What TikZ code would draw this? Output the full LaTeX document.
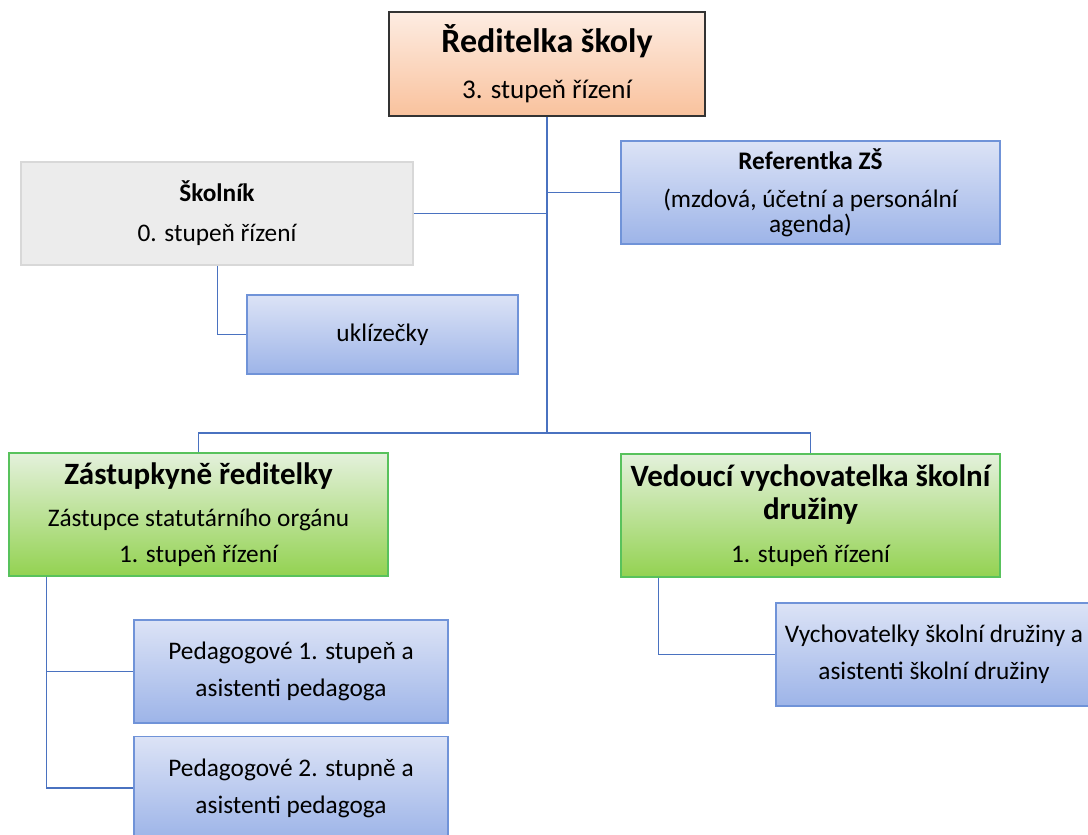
\documentclass[tikz,border=0pt]{standalone}
\usepackage{fontspec}
\setmainfont{Carlito}
\usepackage{tikz}
\usetikzlibrary{
  positioning
  , calc
}

\definecolor{linkblue}{HTML}{4A72C0}
\definecolor{bluetop}{HTML}{DCE3F6}
\definecolor{bluebot}{HTML}{9DB4E8}
\definecolor{blueline}{HTML}{7093D8}
\definecolor{greentop}{HTML}{E4F1DC}
\definecolor{greenbot}{HTML}{93D251}
\definecolor{greenline}{HTML}{58C25C}
\definecolor{orangetop}{HTML}{FDECE2}
\definecolor{orangebot}{HTML}{F9C29D}
\definecolor{grayfill}{HTML}{ECECEC}
\definecolor{grayline}{HTML}{D8D8D8}

\tikzset{
  box/.style={rectangle, inner sep=0pt, align=center, line width=1.2pt},
  bluebox/.style={box, draw=blueline, top color=bluetop, bottom color=bluebot},
  greenbox/.style={box, draw=greenline, top color=greentop, bottom color=greenbot},
  orangebox/.style={box, draw=black!80, line width=1.5pt, top color=orangetop, bottom color=orangebot},
  graybox/.style={box, draw=grayline, fill=grayfill},
  link/.style={draw=linkblue, line width=1.6pt},
}

\newcommand{\bighead}{\fontsize{31}{37}\selectfont\bfseries}

\begin{document}
\begin{tikzpicture}[x=1pt, y=-1pt, font=\fontsize{25.3}{37}\selectfont]
  \useasboundingbox (0,0) rectangle (1088,835);

  \node[orangebox, minimum width=316, minimum height=104] (reditelka) at (547,64)
    {{\fontsize{34}{37}\selectfont\bfseries Ředitelka školy}\\[9pt]{\fontsize{27}{37}\selectfont 3. stupeň řízení}};

  \node[graybox, minimum width=392, minimum height=103] (skolnik) at (217,213.5)
    {{\bfseries Školník}\\[3pt]0. stupeň řízení};
  \node[bluebox, minimum width=379, minimum height=103] (referentka) at (810.5,192.5)
    {{\bfseries Referentka ZŠ}\\[1pt](mzdová, účetní a personální\\[-12pt]agenda)};
  \node[bluebox, minimum width=271, minimum height=79] (uklizecky) at (382.5,334.5)
    {uklízečky};

  \node[greenbox, minimum width=379, minimum height=123] (zastupkyne) at (198.5,514.5)
    {{\bighead Zástupkyně ředitelky}\\[5pt]Zástupce statutárního orgánu\\[-1pt]1. stupeň řízení};
  \node[greenbox, minimum width=379, minimum height=123] (vedouci) at (810.5,515.5)
    {{\bighead Vedoucí vychovatelka školní}\\[-4pt]{\bighead družiny}\\[6pt]1. stupeň řízení};

  \node[bluebox, minimum width=314, minimum height=103] (ped1) at (291,671.5)
    {Pedagogové 1. stupeň a\\asistenti pedagoga};
  \node[bluebox, minimum width=314, minimum height=103] (ped2) at (291,788)
    {Pedagogové 2. stupně a\\asistenti pedagoga};
  \node[bluebox, minimum width=316, minimum height=103] (vychovatelky) at (934,654.5)
    {Vychovatelky školní družiny a\\asistenti školní družiny};

  \coordinate (hub) at (reditelka.south |- 0,433);
  \draw[link] (reditelka.south) -- (hub);
  \draw[link] (referentka.west) -- (referentka.west -| reditelka.south);
  \draw[link] (skolnik.east) -- (skolnik.east -| reditelka.south);
  \draw[link] ([xshift=197pt]skolnik.south west) |- (uklizecky.west);
  \draw[link] (zastupkyne.north) |- (hub) -| (vedouci.north);
  \draw[link] ([xshift=38pt]zastupkyne.south west) |- (ped1.west);
  \draw[link] ([xshift=38pt]zastupkyne.south west) |- (ped2.west);
  \draw[link] ([xshift=38pt]vedouci.south west) |- (vychovatelky.west);
\end{tikzpicture}
\end{document}
